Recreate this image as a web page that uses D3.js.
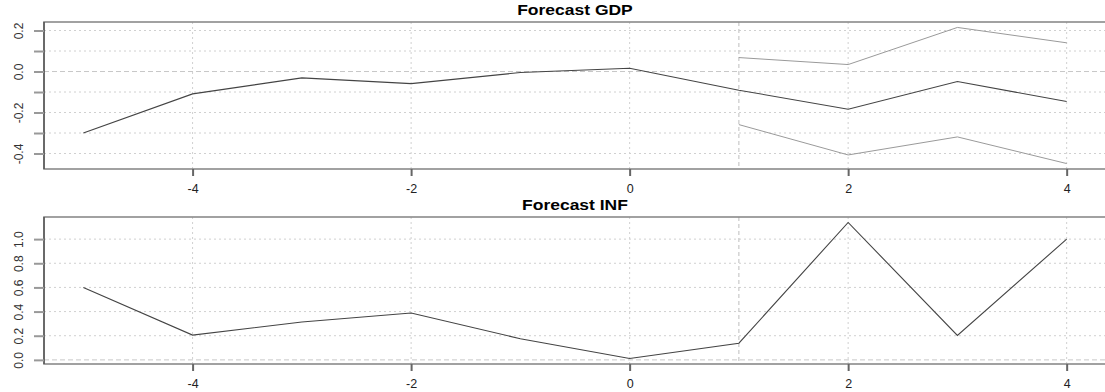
<!DOCTYPE html>
<html>
<head>
<meta charset="utf-8">
<script src="https://cdn.jsdelivr.net/npm/d3@7"></script>
<style>
  body { margin: 0; background: #fff; }
  svg { display: block; font-family: Arial, "Liberation Sans", sans-serif; }
</style>
</head>
<body>
<div id="chart"></div>
<script>
// Data
const periods = [-5, -4, -3, -2, -1, 0, 1, 2, 3, 4];
const gdpValues = [-0.300, -0.109, -0.031, -0.059, -0.005, 0.016, -0.091, -0.184, -0.049, -0.146];
const bandPeriods = [1, 2, 3, 4];
const gdpUpper = [0.068, 0.034, 0.215, 0.140];
const gdpLower = [-0.259, -0.407, -0.319, -0.449];
const infValues = [0.600, 0.205, 0.314, 0.388, 0.175, 0.011, 0.138, 1.138, 0.202, 1.000];

const xTicks = [-4, -2, 0, 2, 4];
const xLabels = ["-4", "-2", "0", "2", "4"];
const gdpTicks = [-0.4, -0.3, -0.2, -0.1, 0.0, 0.1, 0.2];
const gdpLabels = ["-0.4", "", "-0.2", "", "0.0", "", "0.2"];
const infTicks = [0.0, 0.2, 0.4, 0.6, 0.8, 1.0];
const infLabels = ["0.0", "0.2", "0.4", "0.6", "0.8", "1.0"];
const forecastStart = 1;

// Configuration
const width = 1105;
const height = 392;
const left = 44, right = 1106;

const svg = d3.select("#chart").append("svg")
    .attr("width", width)
    .attr("height", height);

// R style 4% padding on the data range
function padded(lo, hi) {
    const p = (hi - lo) * 0.04;
    return [lo - p, hi + p];
}

const x = d3.scaleLinear()
    .domain(padded(d3.min(periods), d3.max(periods)))
    .range([left, right]);

function panel(opts) {
    const y = d3.scaleLinear().domain(opts.domain).range([opts.bottom, opts.top]);
    const g = svg.append("g");
    const clipId = "clip-" + opts.id;

    svg.append("clipPath").attr("id", clipId)
        .append("rect")
        .attr("x", left).attr("y", opts.top)
        .attr("width", right - left).attr("height", opts.bottom - opts.top);

    // grid
    g.append("g").selectAll("line")
        .data(opts.grid)
        .join("line")
        .attr("x1", left).attr("x2", right)
        .attr("y1", d => y(d)).attr("y2", d => y(d))
        .attr("stroke", "#d0d0d0")
        .attr("stroke-dasharray", "2,3");

    g.append("g").selectAll("line")
        .data(xTicks)
        .join("line")
        .attr("x1", d => x(d)).attr("x2", d => x(d))
        .attr("y1", opts.top).attr("y2", opts.bottom)
        .attr("stroke", "#d0d0d0")
        .attr("stroke-dasharray", "2,3");

    // zero line and forecast start
    g.append("line")
        .attr("x1", left).attr("x2", right)
        .attr("y1", y(0)).attr("y2", y(0))
        .attr("stroke", "#c8c8c8")
        .attr("stroke-dasharray", "5,3");

    g.append("line")
        .attr("x1", x(forecastStart)).attr("x2", x(forecastStart))
        .attr("y1", opts.top).attr("y2", opts.bottom)
        .attr("stroke", "#bdbdbd")
        .attr("stroke-dasharray", "4,3");

    const line = d3.line().x(d => x(d[0])).y(d => y(d[1]));
    const plot = g.append("g").attr("clip-path", `url(#${clipId})`);

    (opts.bands || []).forEach(b => {
        plot.append("path")
            .datum(d3.zip(bandPeriods, b))
            .attr("d", line)
            .attr("fill", "none")
            .attr("stroke", "#9a9a9a")
            .attr("stroke-width", 1);
    });

    plot.append("path")
        .datum(d3.zip(periods, opts.values))
        .attr("d", line)
        .attr("fill", "none")
        .attr("stroke", "#444")
        .attr("stroke-width", 1.1);

    // box
    g.append("rect")
        .attr("x", left).attr("y", opts.top)
        .attr("width", right - left).attr("height", opts.bottom - opts.top)
        .attr("fill", "none")
        .attr("stroke", "#8a8a8a")
        .attr("stroke-width", 1.6);
    g.append("line")
        .attr("x1", left).attr("x2", left)
        .attr("y1", opts.top).attr("y2", opts.bottom)
        .attr("stroke", "#333");

    // axes
    const xAxis = g.append("g")
        .attr("transform", `translate(0,${opts.bottom})`)
        .call(d3.axisBottom(x).tickValues(xTicks).tickSize(7).tickSizeOuter(0).tickPadding(8)
            .tickFormat((d, i) => xLabels[i]));
    xAxis.select(".domain").remove();
    xAxis.selectAll(".tick line").attr("stroke", "#666").attr("stroke-width", 2);
    xAxis.selectAll(".tick text")
        .attr("font-size", 12.5)
        .attr("fill", "#222")
        .attr("font-family", "Arial, 'Liberation Sans', sans-serif");

    const yAxis = g.append("g")
        .attr("transform", `translate(${left},0)`)
        .call(d3.axisLeft(y).tickValues(opts.ticks).tickSize(10).tickSizeOuter(0)
            .tickFormat((d, i) => opts.labels[i]));
    yAxis.select(".domain").remove();
    yAxis.selectAll(".tick line").attr("stroke", "#999").attr("stroke-width", 2);
    yAxis.selectAll(".tick text")
        .attr("x", null).attr("dy", null)
        .attr("text-anchor", "middle")
        .attr("transform", "translate(-21,0) rotate(-90)")
        .attr("font-size", 12)
        .attr("fill", "#333")
        .attr("font-family", "Arial, 'Liberation Sans', sans-serif");

    // title
    svg.append("text")
        .attr("x", (left + right) / 2)
        .attr("y", opts.top - 7)
        .attr("text-anchor", "middle")
        .attr("font-weight", "bold")
        .attr("font-size", 14)
        .attr("transform", `translate(${(left + right) / 2},${opts.top - 7}) scale(1.25,1) translate(${-(left + right) / 2},${-(opts.top - 7)})`)
        .text(opts.title);
}

panel({
    id: "gdp",
    title: "Forecast GDP",
    top: 22, bottom: 169,
    domain: padded(d3.min(gdpLower), d3.max(gdpUpper)),
    grid: gdpTicks.filter(d => d !== 0),
    ticks: gdpTicks, labels: gdpLabels,
    values: gdpValues,
    bands: [gdpUpper, gdpLower]
});

panel({
    id: "inf",
    title: "Forecast INF",
    top: 217, bottom: 364,
    domain: padded(d3.min(infValues), d3.max(infValues)),
    grid: infTicks.filter(d => d !== 0),
    ticks: infTicks, labels: infLabels,
    values: infValues
});
</script>
</body>
</html>
